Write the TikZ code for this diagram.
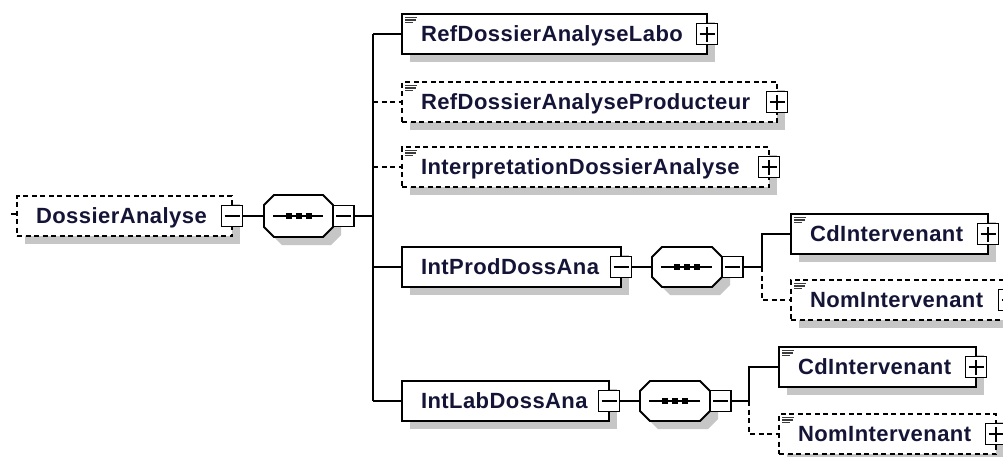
\documentclass[tikz,border=0pt]{standalone}
\usepackage{fontspec}
\setmainfont{Liberation Sans}
\newfontfamily\lblfont[LetterSpace=2]{Liberation Sans}
\definecolor{shadowc}{RGB}{198,198,198}
\definecolor{txtc}{RGB}{20,20,55}
\definecolor{iconc}{RGB}{60,60,60}
\tikzset{
  ln/.style={line width=1.8pt, draw=black},
  dsh/.style={dash pattern=on 5pt off 3.5pt},
  elbox/.style={rectangle, ln, fill=white, minimum height=40pt, anchor=north west, inner sep=0pt, outer sep=0pt},
  hidbox/.style={rectangle, draw=none, anchor=north west, inner sep=0pt, outer sep=0pt},
  pmbox/.style={rectangle, draw=black, line width=1.6pt, fill=white, minimum width=21pt, minimum height=21pt, inner sep=0pt, outer sep=0pt},
  lbl/.style={anchor=base west, inner sep=0pt, outer sep=0pt, text=txtc, font=\lblfont\bfseries\fontsize{22}{24}\selectfont},
  conn/.style={ln},
  optconn/.style={ln, dsh},
}
% element box: name, x, y, width, border style, label
\newcommand\elem[6]{%
  \fill[shadowc] (#2+8,#3+8) rectangle ++(#4,40);
  \node[elbox,#5,minimum width=#4] (#1) at (#2,#3) {};
  \node[lbl] (#1t) at (#2+19,#3+27.5) {#6};
  \node[pmbox] (#1pm) at (#1.east) {};
  \draw[line width=1.6pt] ([xshift=-7.5pt]#1pm.center) -- ([xshift=7.5pt]#1pm.center);
}
\newcommand\plusbar[1]{%
  \draw[line width=1.6pt] ([yshift=-7.5pt]#1pm.center) -- ([yshift=7.5pt]#1pm.center);
}
\newcommand\icon[1]{%
  \draw[iconc, line width=1.2pt]
    ([xshift=3pt,yshift=-3.5pt]#1.north west) -- ++(11.5,0)
    ([xshift=3pt,yshift=-6pt]#1.north west) -- ++(10.5,0)
    ([xshift=3pt,yshift=-8.5pt]#1.north west) -- ++(8,0);
}
% sequence compositor: name, x, y, w, h
\newcommand\seqnode[5]{%
  \fill[shadowc,shift={(#2+8,#3+8)}] (10,0) -- (#4-10,0) -- (#4,10) -- (#4,#5-10) -- (#4-10,#5) -- (10,#5) -- (0,#5-10) -- (0,10) -- cycle;
  \draw[ln,fill=white,shift={(#2,#3)}] (10,0) -- (#4-10,0) -- (#4,10) -- (#4,#5-10) -- (#4-10,#5) -- (10,#5) -- (0,#5-10) -- (0,10) -- cycle;
  \node[hidbox, minimum width=#4, minimum height=#5] (#1) at (#2,#3) {};
  \draw[ln] ([xshift=9pt]#1.west) -- ([xshift=-10pt]#1.east);
  \foreach \dx in {-10,0,10} \fill ([xshift=\dx pt]#1.center) +(-3,-3) rectangle +(3,3);
  \node[pmbox, anchor=west] (#1pm) at (#1.east) {};
  \draw[line width=1.6pt] ([xshift=-7.5pt]#1pm.center) -- ([xshift=7.5pt]#1pm.center);
}
\begin{document}
\begin{tikzpicture}[x=1pt,y=-1pt]
\useasboundingbox (0,0) rectangle (1003,456);
\fill[white] (0,0) rectangle (1003,456);
\clip (0,0) rectangle (1003,456);

% ---- boxes ----
\elem{root}{17}{196}{215}{dsh}{DossierAnalyse}
\seqnode{seqa}{264}{195}{69}{42}

\elem{refl}{402}{14}{305}{solid}{RefDossierAnalyseLabo}\plusbar{refl}\icon{refl}
\elem{refp}{402}{82}{375}{dsh}{RefDossierAnalyseProducteur}\plusbar{refp}\icon{refp}
\elem{interp}{402}{147}{367}{dsh}{InterpretationDossierAnalyse}\plusbar{interp}\icon{interp}
\elem{intprod}{402}{247}{219}{solid}{IntProdDossAna}
\elem{intlab}{402}{381}{207}{solid}{IntLabDossAna}

\seqnode{seqb}{652}{247}{70}{40}
\seqnode{seqc}{640}{381}{70}{40}

\elem{cda}{791}{214}{197}{solid}{CdIntervenant}\plusbar{cda}\icon{cda}
\elem{noma}{791}{280}{218}{dsh}{NomIntervenant}\plusbar{noma}\icon{noma}
\elem{cdb}{779}{347}{197}{solid}{CdIntervenant}\plusbar{cdb}\icon{cdb}
\elem{nomb}{779}{414}{217}{dsh}{NomIntervenant}\plusbar{nomb}\icon{nomb}

% ---- connectors ----
\coordinate (rootin) at (11,214);
\draw[conn] (rootin) -- (rootin -| root.west);
\draw[conn] (rootpm.east) -- (seqa.west);

\coordinate (tra) at (373,216);
\draw[conn] (seqapm.east) -- (tra);
\draw[conn] (tra |- refl.west) -- (tra |- intlab.west);
\draw[conn] (tra |- refl.west) -- (refl.west);
\draw[optconn] (tra |- refp.west) -- (refp.west);
\draw[optconn] (tra |- interp.west) -- (interp.west);
\draw[conn] (tra |- intprod.west) -- (intprod.west);
\draw[conn] (tra |- intlab.west) -- (intlab.west);

\draw[conn] (intprodpm.east) -- (seqb.west);
\coordinate (trb) at (762,267);
\draw[conn] (seqbpm.east) -- (trb);
\draw[conn] (trb) -- (trb |- cda.west) -- (cda.west);
\draw[optconn] (trb) -- (trb |- noma.west) -- (noma.west);

\draw[conn] (intlabpm.east) -- (seqc.west);
\coordinate (trc) at (749,401);
\draw[conn] (seqcpm.east) -- (trc);
\draw[conn] (trc) -- (trc |- cdb.west) -- (cdb.west);
\draw[optconn] (trc) -- (trc |- nomb.west) -- (nomb.west);
\end{tikzpicture}
\end{document}
